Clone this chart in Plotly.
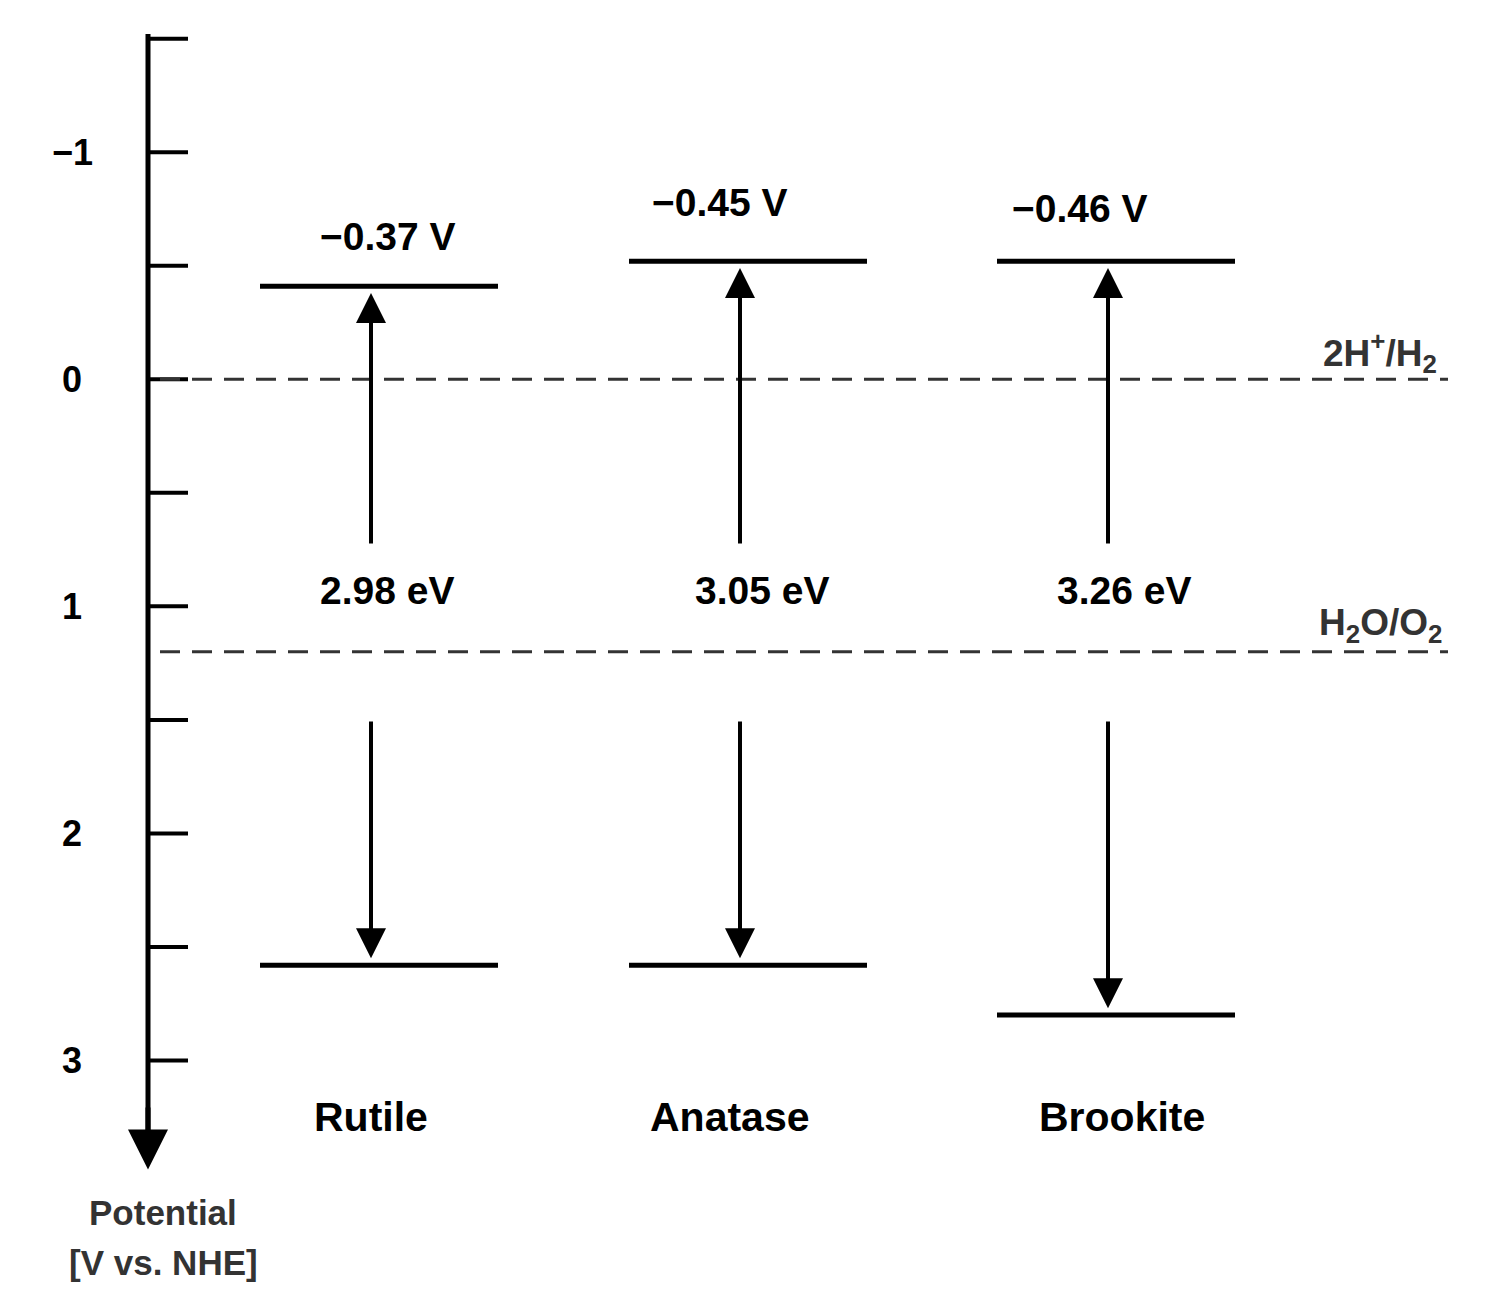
import plotly.graph_objects as go

# band edges of the TiO2 polymorphs (V vs. NHE)
phases = ['Rutile', 'Anatase', 'Brookite']
cb_labels = ['\u22120.37 V', '\u22120.45 V', '\u22120.46 V']
gap_labels = ['2.98 eV', '3.05 eV', '3.26 eV']
cb_levels = [-0.41, -0.52, -0.52]
vb_levels = [2.58, 2.58, 2.80]
phase_x = [371, 740, 1108]
tick_vals = [-1.5, -1, -0.5, 0, 0.5, 1, 1.5, 2, 2.5, 3]
tick_text = {-1: '\u22121', 0: '0', 1: '1', 2: '2', 3: '3'}
redox_levels = [0, 1.20]
redox_labels = ['2H<sup>+</sup>/H<sub>2</sub>', 'H<sub>2</sub>O/O<sub>2</sub>']

FONT = 'Liberation Sans'
fig = go.Figure()
shapes = []
ann = []

# main potential axis
shapes.append(dict(type='line', x0=148, x1=148, y0=-1.52, y1=3.35, line=dict(color='black', width=5)))
ann.append(dict(x=148, y=3.48, ax=148, ay=3.2, xref='x', yref='y', axref='x', ayref='y',
                showarrow=True, arrowhead=2, arrowsize=1.6, arrowwidth=5, arrowcolor='black', text=''))
for v in tick_vals:
    shapes.append(dict(type='line', x0=148, x1=188, y0=v, y1=v, line=dict(color='black', width=4)))
    if v in tick_text:
        ann.append(dict(x=72, y=v, text='<b>%s</b>' % tick_text[v], showarrow=False,
                        font=dict(size=36, family=FONT, color='black')))

for lvl, lab in zip(redox_levels, redox_labels):
    shapes.append(dict(type='line', x0=160, x1=1448, y0=lvl, y1=lvl,
                       line=dict(color='#333', width=3, dash='20px,12px')))
    ann.append(dict(x=1380, y=lvl - 0.12, text='<b>%s</b>' % lab, showarrow=False,
                    font=dict(size=37, family=FONT, color='#333')))

for i, name in enumerate(phases):
    x = phase_x[i]
    shapes.append(dict(type='line', x0=x - 111, x1=x + 127, y0=cb_levels[i], y1=cb_levels[i],
                       line=dict(color='black', width=5)))
    shapes.append(dict(type='line', x0=x - 111, x1=x + 127, y0=vb_levels[i], y1=vb_levels[i],
                       line=dict(color='black', width=5)))
    ann.append(dict(x=x, y=cb_levels[i] + 0.03, ax=x, ay=0.73, xref='x', yref='y', axref='x', ayref='y',
                    showarrow=True, arrowhead=2, arrowsize=1.5, arrowwidth=4, arrowcolor='black', text=''))
    ann.append(dict(x=x, y=vb_levels[i] - 0.03, ax=x, ay=1.5, xref='x', yref='y', axref='x', ayref='y',
                    showarrow=True, arrowhead=2, arrowsize=1.5, arrowwidth=4, arrowcolor='black', text=''))
    ann.append(dict(x=x + [17, -20, -28][i], y=cb_levels[i] - [0.22, 0.26, 0.23][i],
                    text='<b>%s</b>' % cb_labels[i], showarrow=False,
                    font=dict(size=39, family=FONT, color='black')))
    ann.append(dict(x=x + [16, 22, 16][i], y=0.93, text='<b>%s</b>' % gap_labels[i], showarrow=False,
                    font=dict(size=39, family=FONT, color='black')))
    ann.append(dict(x=x + [0, -10, 14][i], y=3.25, text='<b>%s</b>' % name, showarrow=False,
                    font=dict(size=41, family=FONT, color='black')))

ann.append(dict(x=163, y=3.67, text='<b>Potential</b>', showarrow=False,
                font=dict(size=35, family=FONT, color='#333')))
ann.append(dict(x=163, y=3.89, text='<b>[V vs. NHE]</b>', showarrow=False,
                font=dict(size=35, family=FONT, color='#333')))

fig.update_layout(
    width=1499, height=1308, margin=dict(l=0, r=0, t=0, b=0),
    plot_bgcolor='white', paper_bgcolor='white', showlegend=False,
    shapes=shapes, annotations=ann,
    xaxis=dict(range=[8, 1507], visible=False),
    yaxis=dict(range=[4.125, -1.635], visible=False),
)
fig.write_html("out.html")
